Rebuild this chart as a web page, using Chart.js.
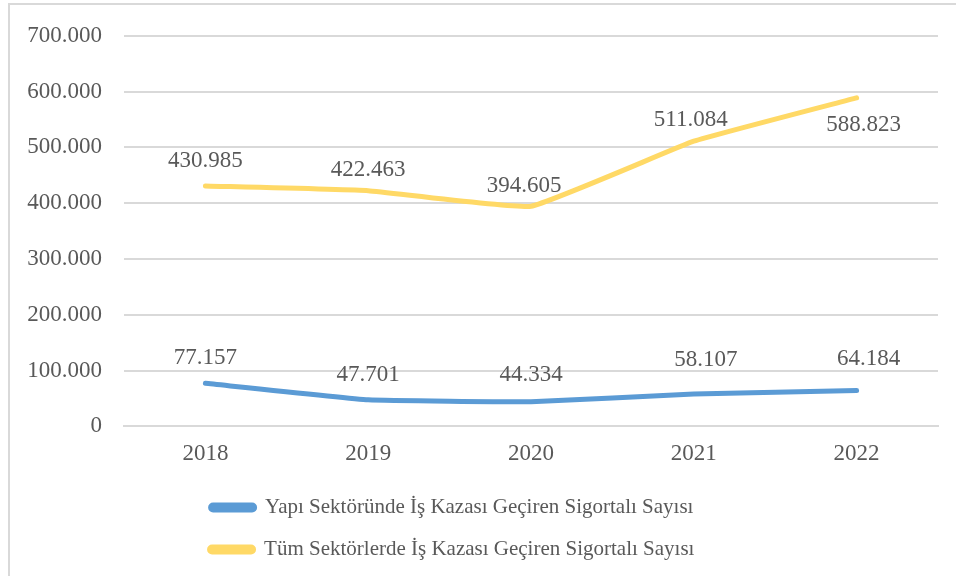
<!DOCTYPE html>
<html>
<head>
<meta charset="utf-8">
<script src="https://cdn.jsdelivr.net/npm/chart.js@4"></script>
<style>
  html, body { margin: 0; padding: 0; background: #fff; }
  #wrap { position: relative; width: 956px; height: 576px; overflow: hidden; }
  #frame { position: absolute; left: 8px; top: 3px; width: 2000px; height: 2000px;
           border-left: 2px solid #d9d9d9; border-top: 2px solid #d9d9d9; }
  canvas { position: absolute; left: 0; top: 0; }
</style>
</head>
<body>
<div id="wrap">
  <div id="frame"></div>
  <canvas id="chart" width="956" height="576"></canvas>
</div>
<script>
const years = ["2018", "2019", "2020", "2021", "2022"];
const yapiSektoru = [77157, 47701, 44334, 58107, 64184];
const tumSektorler = [430985, 422463, 394605, 511084, 588823];
const seriesNames = [
  "Yapı Sektöründe İş Kazası Geçiren Sigortalı Sayısı",
  "Tüm Sektörlerde İş Kazası Geçiren Sigortalı Sayısı"
];

const serif = "'Liberation Serif', 'Times New Roman', serif";
const textColor = '#595959';

// 77157 -> "77.157"
function fmt(v) {
  return String(Math.round(v)).replace(/\B(?=(\d{3})+(?!\d))/g, '.');
}

// simple data labels, drawn at the points the line controller placed
const valueLabels = {
  id: 'valueLabels',
  afterDatasetsDraw(chart) {
    const ctx = chart.ctx;
    ctx.save();
    ctx.font = '23px ' + serif;
    ctx.fillStyle = textColor;
    ctx.textAlign = 'center';
    ctx.textBaseline = 'middle';
    chart.data.datasets.forEach((ds, i) => {
      chart.getDatasetMeta(i).data.forEach((pt, j) => {
        const off = ds.labelOffsets[j];
        ctx.fillText(fmt(ds.data[j]), pt.x + off[0], pt.y + off[1]);
      });
    });
    ctx.restore();
  }
};

// nudge the legend a bit left, like the original
const legendShift = {
  id: 'legendShift',
  afterLayout(chart) {
    if (chart.legend) {
      chart.legend.left -= 17;
      chart.legend.right -= 17;
    }
  }
};

new Chart(document.getElementById('chart'), {
  type: 'line',
  data: {
    labels: years,
    datasets: [{
      label: seriesNames[0],
      data: yapiSektoru,
      borderColor: '#5b9bd5',
      backgroundColor: '#5b9bd5',
      borderWidth: 5,
      borderCapStyle: 'round',
      tension: 0.1,
      pointRadius: 0,
      labelOffsets: [[0, -25], [0, -25], [0, -27], [12, -34], [12, -32]]
    }, {
      label: seriesNames[1],
      data: tumSektorler,
      borderColor: '#ffd966',
      backgroundColor: '#ffd966',
      borderWidth: 5,
      borderCapStyle: 'round',
      tension: 0.1,
      pointRadius: 0,
      labelOffsets: [[0, -25], [0, -21], [-7, -20], [-3, -21], [7, 27]]
    }]
  },
  options: {
    responsive: false,
    animation: false,
    layout: { padding: { top: 33, right: 18, left: 0, bottom: 6 } },
    scales: {
      x: {
        offset: true,
        afterFit(scale) { scale.height -= 6; },
        grid: { display: false, drawTicks: false },
        border: { display: true, color: '#d9d9d9', width: 2 },
        ticks: { color: textColor, font: { family: serif, size: 23 }, padding: 14, maxRotation: 0 }
      },
      y: {
        min: 0,
        max: 700000,
        afterFit(scale) { scale.width = 124; },
        grid: { color: '#d9d9d9', lineWidth: 2, drawTicks: false },
        border: { display: false },
        ticks: {
          stepSize: 100000,
          color: textColor,
          padding: 22,
          font: { family: serif, size: 23 },
          callback: (v) => fmt(v)
        }
      }
    },
    plugins: {
      tooltip: { enabled: false },
      legend: {
        position: 'bottom',
        labels: {
          color: textColor,
          font: { family: serif, size: 21 },
          boxWidth: 44,
          boxHeight: 5,
          useBorderRadius: true,
          borderRadius: 2.5,
          padding: 21
        }
      }
    }
  },
  plugins: [valueLabels, legendShift]
});
</script>
</body>
</html>
